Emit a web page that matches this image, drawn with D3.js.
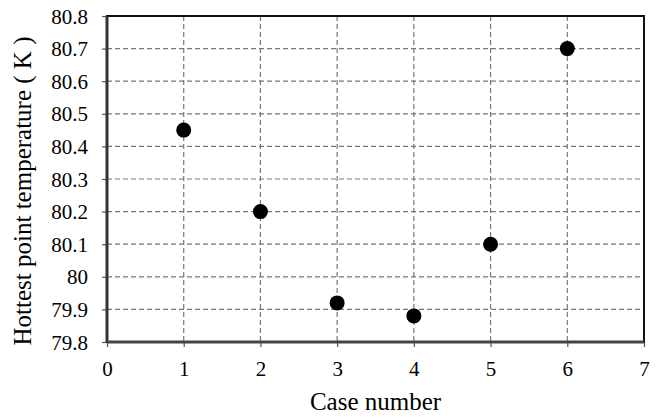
<!DOCTYPE html>
<html>
<head>
<meta charset="utf-8">
<script src="https://cdn.jsdelivr.net/npm/d3@7/dist/d3.min.js"></script>
<style>
  body { margin: 0; background: #fff; }
</style>
</head>
<body>
<svg id="chart" width="662" height="418"></svg>
<script>
const cases = [1, 2, 3, 4, 5, 6];
const temps = [80.45, 80.2, 79.92, 79.88, 80.1, 80.7];
const xTicks = [0, 1, 2, 3, 4, 5, 6, 7];
const yTicks = [79.8, 79.9, 80, 80.1, 80.2, 80.3, 80.4, 80.5, 80.6, 80.7, 80.8];

const serif = "Liberation Serif";
const svg = d3.select("#chart");
const m = { left: 107, right: 644, top: 16, bottom: 342 };

const x = d3.scaleLinear().domain([0, 7]).range([m.left, m.right]);
const y = d3.scaleLinear().domain([79.8, 80.8]).range([m.bottom, m.top]);

// grid
svg.append("g")
  .selectAll("line")
  .data(yTicks.slice(1, -1))
  .join("line")
  .attr("x1", m.left).attr("x2", m.right)
  .attr("y1", d => y(d)).attr("y2", d => y(d))
  .attr("stroke", "#777").attr("stroke-width", 1.2)
  .attr("stroke-dasharray", "5,3");

svg.append("g")
  .selectAll("line")
  .data(xTicks.slice(1, -1))
  .join("line")
  .attr("y1", m.top).attr("y2", m.bottom)
  .attr("x1", d => x(d)).attr("x2", d => x(d))
  .attr("stroke", "#777").attr("stroke-width", 1.2)
  .attr("stroke-dasharray", "5,3");

// axes
const xAxis = svg.append("g")
  .attr("transform", `translate(0,${m.bottom})`)
  .call(d3.axisBottom(x).tickValues(xTicks).tickFormat(d3.format("d")).tickSize(5).tickPadding(14));
const yAxis = svg.append("g")
  .attr("transform", `translate(${m.left},0)`)
  .call(d3.axisLeft(y).tickValues(yTicks).tickFormat(d => String(+d.toFixed(1))).tickSize(5).tickPadding(14));

[xAxis, yAxis].forEach(g => {
  g.attr("font-family", null).attr("font-size", null);
  g.select(".domain").remove();
  g.selectAll("line").attr("stroke", "#555").attr("stroke-width", 1.2);
  g.selectAll("text").attr("fill", "#000")
    .attr("font-family", serif).attr("font-size", 21);
});
yAxis.selectAll("text").attr("dy", "0.34em");

// frame
svg.append("rect")
  .attr("x", m.left).attr("y", m.top)
  .attr("width", m.right - m.left).attr("height", m.bottom - m.top)
  .attr("fill", "none").attr("stroke", "#111").attr("stroke-width", 2);
svg.append("line")
  .attr("x1", m.left).attr("x2", m.left).attr("y1", m.top).attr("y2", m.bottom)
  .attr("stroke", "#333").attr("stroke-width", 3);
svg.append("line")
  .attr("x1", m.left).attr("x2", m.right).attr("y1", m.bottom).attr("y2", m.bottom)
  .attr("stroke", "#444").attr("stroke-width", 3);

// points
svg.append("g")
  .selectAll("circle")
  .data(cases.map((c, i) => [c, temps[i]]))
  .join("circle")
  .attr("cx", d => x(d[0]))
  .attr("cy", d => y(d[1]))
  .attr("r", 7.5)
  .attr("fill", "#000");

// titles
svg.append("text")
  .attr("x", (m.left + m.right) / 2).attr("y", 410)
  .attr("text-anchor", "middle")
  .attr("font-family", serif).attr("font-size", 25)
  .text("Case number");
svg.append("text")
  .attr("transform", `translate(31,${(m.top + m.bottom) / 2 + 12}) rotate(-90)`)
  .attr("text-anchor", "middle")
  .attr("font-family", serif).attr("font-size", 25)
  .text("Hottest point temperature ( K )");
</script>
</body>
</html>
